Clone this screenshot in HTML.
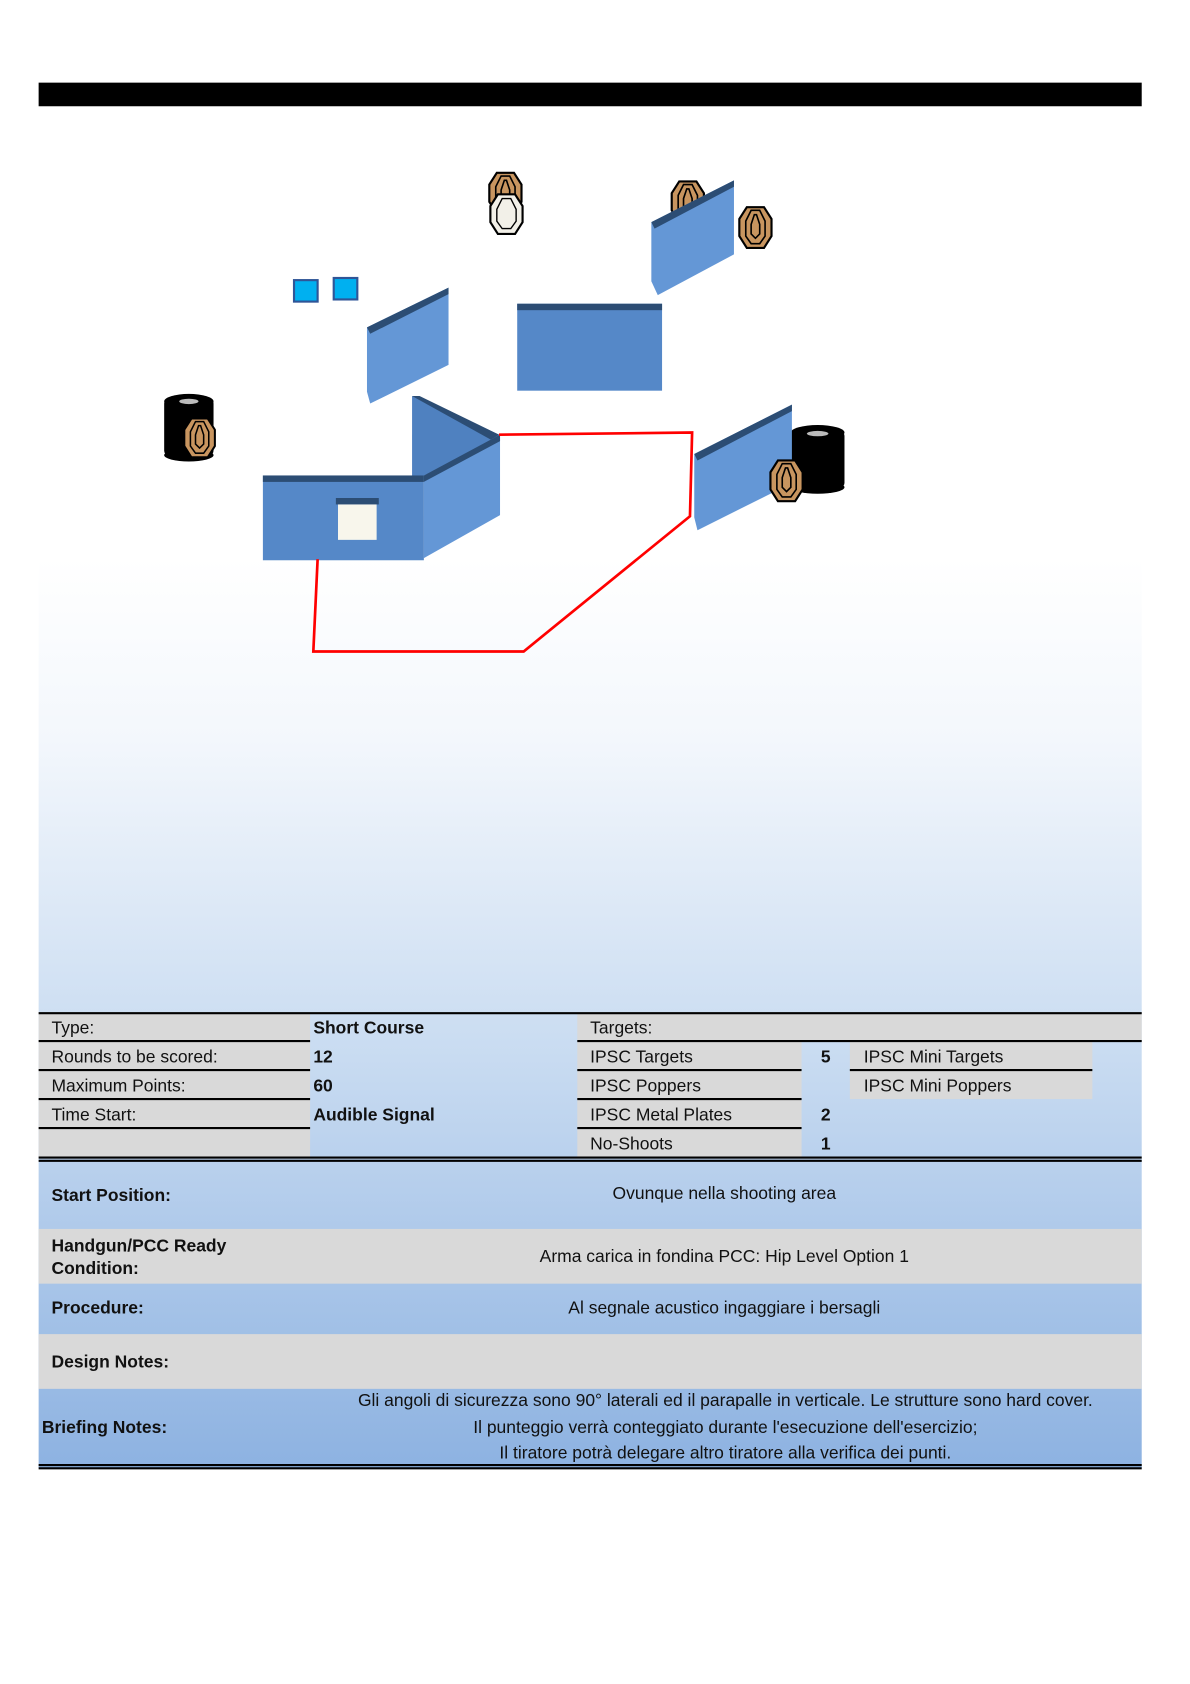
<!DOCTYPE html>
<html><head><meta charset="utf-8"><style>
html,body{margin:0;padding:0;background:#fff}
svg{display:block}
text{font-family:"Liberation Sans",Arial,sans-serif;font-size:16.3px;fill:#111}
.b{font-weight:bold}
</style></head><body>
<svg width="1190" height="1684" viewBox="0 0 1109 1569" preserveAspectRatio="none" xmlns="http://www.w3.org/2000/svg">
<defs>
<linearGradient id="bg" x1="0" y1="0" x2="0" y2="1">
<stop offset="0" stop-color="#ffffff"/>
<stop offset="0.2" stop-color="#f3f7fc"/>
<stop offset="0.55" stop-color="#c8dbf1"/>
<stop offset="1" stop-color="#8db2e1"/>
</linearGradient>
<g id="tgt">
<path d="M-8,-19 L8,-19 L15,-8 L15,8 L8,19 L-8,19 L-15,8 L-15,-8 Z" fill="#c8955f" stroke="#000" stroke-width="2"/>
<path d="M-4,-16 L4,-16 L9,-6 L9,8 L4,15 L-4,15 L-9,8 L-9,-6 Z" fill="none" stroke="#000" stroke-width="1.5"/>
<path d="M-1,-12 L1,-12 L4,-3 L4,6 L0,10 L-4,6 L-4,-3 Z" fill="none" stroke="#000" stroke-width="1.5"/>
</g>
</defs>
<rect x="36" y="520" width="1028" height="848" fill="url(#bg)"/>
<rect x="36" y="77" width="1028" height="22" fill="#000"/>

<rect x="274" y="261" width="22" height="20" fill="#00b0f0" stroke="#2f5597" stroke-width="2"/>
<rect x="311" y="259" width="22" height="20" fill="#00b0f0" stroke="#2f5597" stroke-width="2"/>
<use href="#tgt" transform="translate(471,180)"/>
<path d="M464,181 L480,181 L487,192 L487,207 L480,218 L464,218 L457,207 L457,192 Z" fill="#f2f0e8" stroke="#000" stroke-width="2"/>
<path d="M468,185 L476,185 L481,195 L481,206 L476,213 L468,213 L463,206 L463,195 Z" fill="none" stroke="#000" stroke-width="1.3"/>
<use href="#tgt" transform="translate(641,188)"/>
<use href="#tgt" transform="translate(704,212)"/>
<path d="M607,207 L684,168 L684,237 L613,275 L607,262 Z" fill="#6497d6"/>
<path d="M607,207 L684,168 L684,174 L610,213 Z" fill="#2c4d74"/>
<path d="M342,305 L418,268 L418,340 L345,376 L342,365 Z" fill="#6497d6"/>
<path d="M342,305 L418,268 L418,274 L345,311 Z" fill="#2c4d74"/>
<rect x="482" y="283" width="135" height="81" fill="#5588c8"/>
<rect x="482" y="283" width="135" height="6" fill="#2c4d74"/>
<rect x="153" y="372" width="46" height="52" rx="4" fill="#000"/>
<ellipse cx="176" cy="374" rx="23" ry="7" fill="#000"/>
<ellipse cx="176" cy="424" rx="23" ry="6" fill="#000"/>
<ellipse cx="176" cy="374" rx="9" ry="2.5" fill="#bbb"/>
<use href="#tgt" transform="translate(186,408) scale(0.95)"/>
<rect x="737" y="402" width="50" height="52" rx="4" fill="#000"/>
<ellipse cx="762" cy="403" rx="25" ry="7" fill="#000"/>
<ellipse cx="762" cy="454" rx="25" ry="6" fill="#000"/>
<ellipse cx="762" cy="404" rx="10" ry="2.5" fill="#bbb"/>
<path d="M647,423 L738,377 L738,450 L650,494 L647,482 Z" fill="#6497d6"/>
<path d="M647,423 L738,377 L738,383 L650,429 Z" fill="#2c4d74"/>
<use href="#tgt" transform="translate(733,448)"/>
<path d="M384,369 L465,405 L465,410 L395,443 L384,443 Z" fill="#4f81c0"/>
<path d="M384,369 L391,369 L465,405 L458,410 Z" fill="#2c4d74"/>
<path d="M395,443 L466,405 L466,480 L395,520 Z" fill="#6497d6"/>
<path d="M395,443 L466,405 L466,411 L395,449 Z" fill="#2c4d74"/>
<rect x="245" y="443" width="150" height="79" fill="#5588c8"/>
<rect x="245" y="443" width="150" height="6" fill="#2c4d74"/>
<rect x="313" y="464" width="40" height="6" fill="#2c4d74"/>
<rect x="315" y="470" width="36" height="33" fill="#f8f6ec"/>
<path d="M296,521 L292,607 L488,607 L643,481 L645,403 L465,405" fill="none" stroke="#f00" stroke-width="2.5"/>

<g fill="#d9d9d9">
<rect x="36" y="943" width="253" height="135"/>
<rect x="538" y="943" width="526" height="27"/>
<rect x="538" y="970" width="209" height="108"/>
<rect x="792" y="970" width="226" height="54"/>
<rect x="36" y="1145" width="1028" height="51"/>
<rect x="36" y="1243" width="1028" height="51"/>
</g>
<g stroke="#000" stroke-width="2">
<line x1="36" y1="944" x2="1064" y2="944"/>
<line x1="36" y1="970" x2="289" y2="970"/><line x1="538" y1="970" x2="1064" y2="970"/>
<line x1="36" y1="997" x2="289" y2="997"/><line x1="538" y1="997" x2="747" y2="997"/><line x1="792" y1="997" x2="1018" y2="997"/>
<line x1="36" y1="1024" x2="289" y2="1024"/><line x1="538" y1="1024" x2="747" y2="1024"/>
<line x1="36" y1="1051" x2="289" y2="1051"/><line x1="538" y1="1051" x2="747" y2="1051"/>
<line x1="36" y1="1078.5" x2="1064" y2="1078.5"/><line x1="36" y1="1081.5" x2="1064" y2="1081.5"/>
<line x1="36" y1="1365" x2="1064" y2="1365"/><line x1="36" y1="1368" x2="1064" y2="1368"/>
</g>
<text x="48" y="963">Type:</text>
<text x="292" y="963" class="b">Short Course</text>
<text x="550" y="963">Targets:</text>
<text x="48" y="990">Rounds to be scored:</text>
<text x="292" y="990" class="b">12</text>
<text x="550" y="990">IPSC Targets</text>
<text x="765" y="990" class="b">5</text>
<text x="805" y="990">IPSC Mini Targets</text>
<text x="48" y="1017">Maximum Points:</text>
<text x="292" y="1017" class="b">60</text>
<text x="550" y="1017">IPSC Poppers</text>
<text x="805" y="1017">IPSC Mini Poppers</text>
<text x="48" y="1044">Time Start:</text>
<text x="292" y="1044" class="b">Audible Signal</text>
<text x="550" y="1044">IPSC Metal Plates</text>
<text x="765" y="1044" class="b">2</text>
<text x="550" y="1071">No-Shoots</text>
<text x="765" y="1071" class="b">1</text>

<text x="48" y="1119" class="b">Start Position:</text>
<text x="675" y="1117" text-anchor="middle">Ovunque nella shooting area</text>
<text x="48" y="1166" class="b">Handgun/PCC Ready</text>
<text x="48" y="1187" class="b">Condition:</text>
<text x="675" y="1176" text-anchor="middle">Arma carica in fondina PCC: Hip Level Option 1</text>
<text x="48" y="1224" class="b">Procedure:</text>
<text x="675" y="1224" text-anchor="middle">Al segnale acustico ingaggiare i bersagli</text>
<text x="48" y="1274" class="b">Design Notes:</text>
<text x="39" y="1335" class="b">Briefing Notes:</text>
<text x="676" y="1310" text-anchor="middle">Gli angoli di sicurezza sono 90° laterali ed il parapalle in verticale. Le strutture sono hard cover.</text>
<text x="676" y="1335" text-anchor="middle">Il punteggio verrà conteggiato durante l'esecuzione dell'esercizio;</text>
<text x="676" y="1359" text-anchor="middle">Il tiratore potrà delegare altro tiratore alla verifica dei punti.</text>
</svg>
</body></html>
